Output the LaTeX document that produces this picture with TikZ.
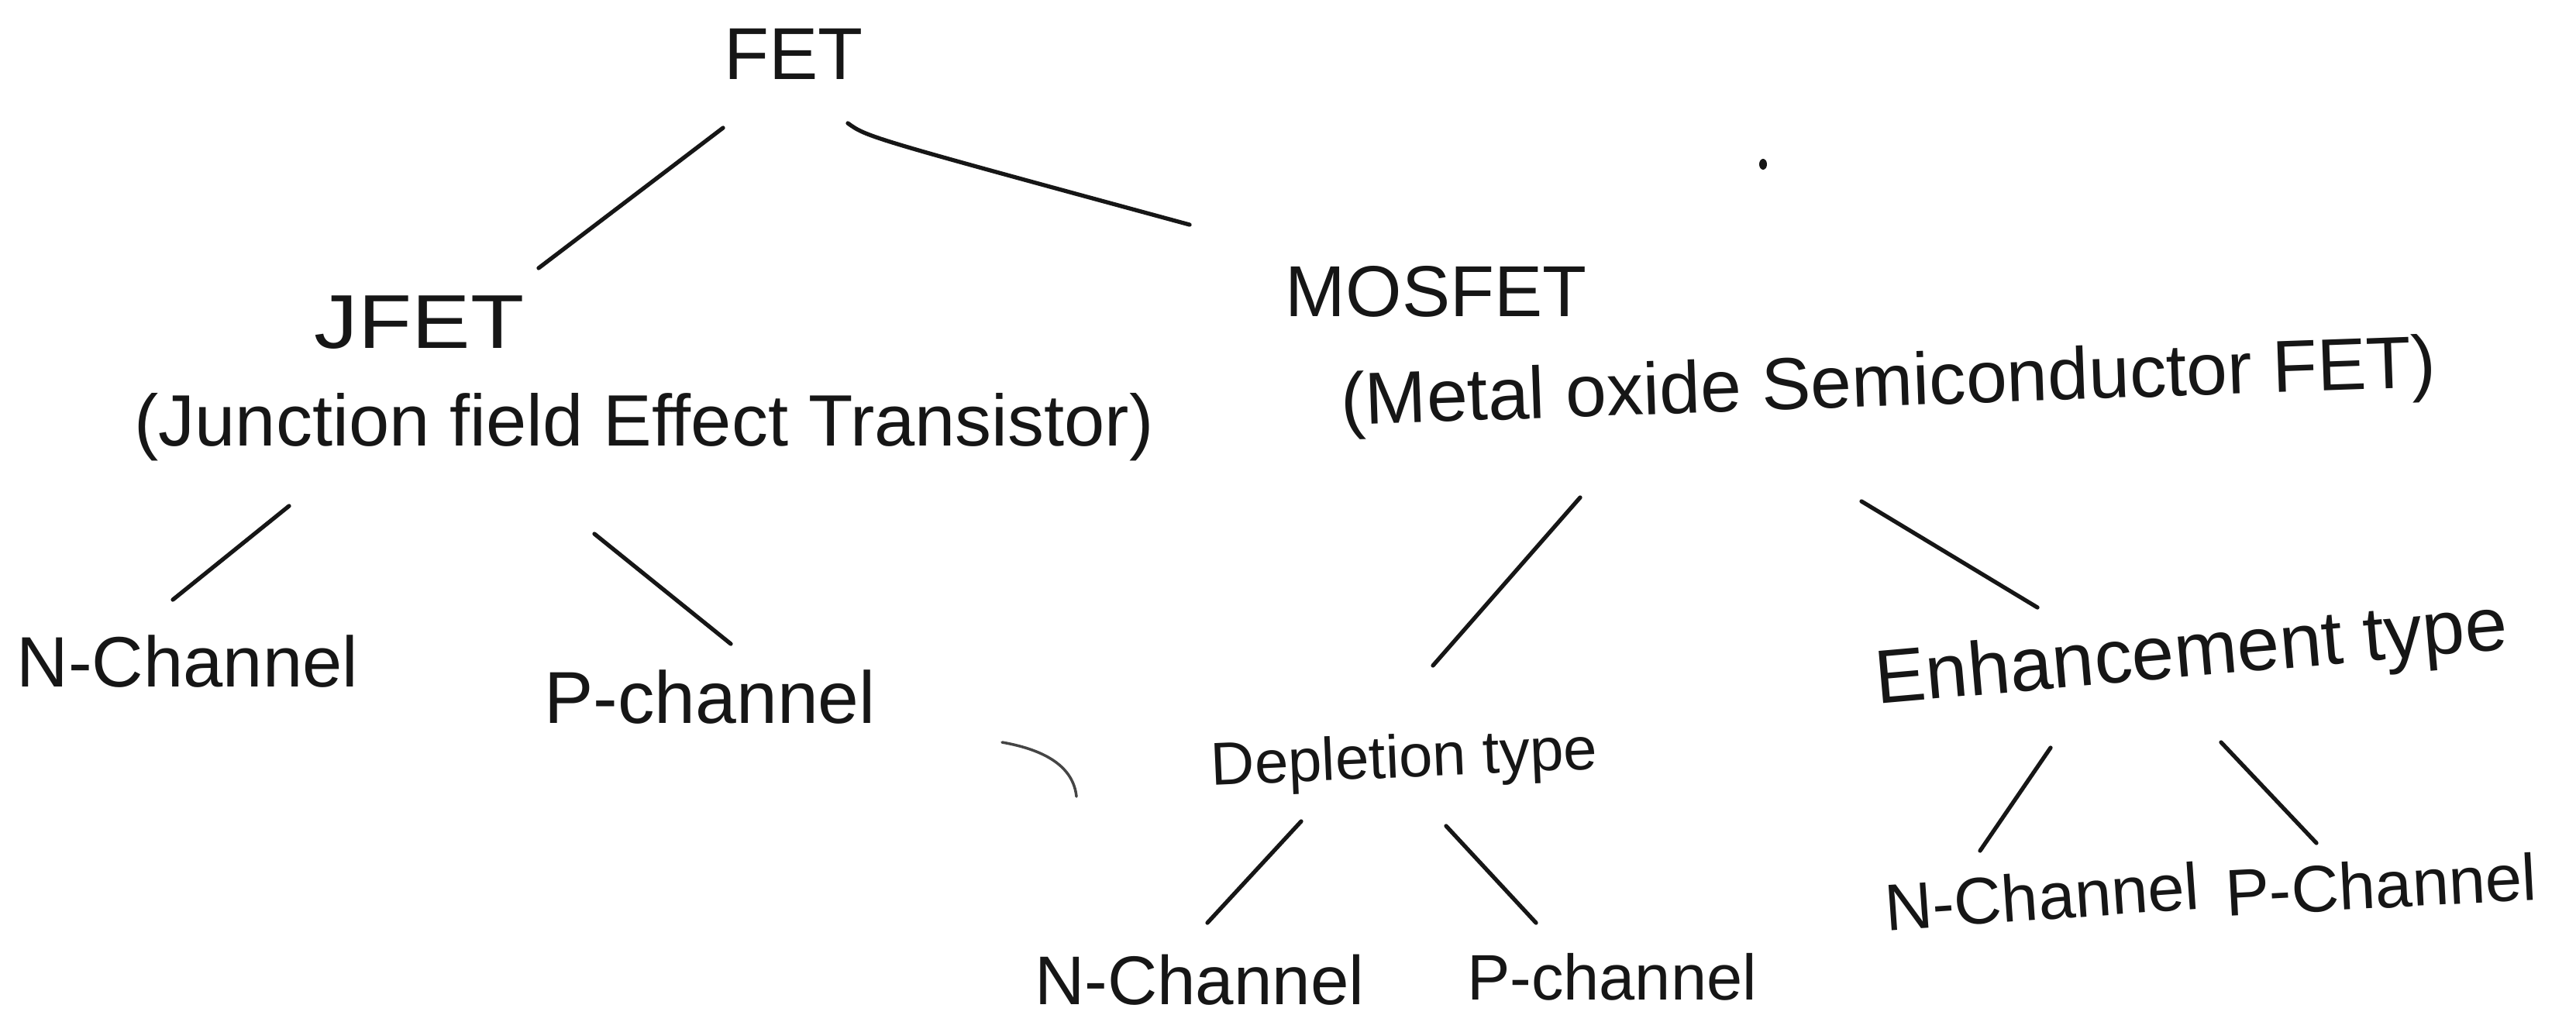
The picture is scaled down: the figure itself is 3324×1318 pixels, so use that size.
\documentclass[tikz,border=0pt]{standalone}
\usepackage{fontspec}
\setmainfont{Liberation Sans}
\newcommand{\fsz}[1]{\fontsize{#1}{#1}\selectfont}
\definecolor{ink}{HTML}{161616}
\tikzset{
  lbl/.style={inner sep=0pt, anchor=base, text=ink},
  branch/.style={draw=ink, line width=1.5pt, line cap=round},
  stray/.style={draw=ink!80, line width=1pt, line cap=round}
}
\begin{document}
\begin{tikzpicture}[x=0.01cm, y=-0.01cm]
\useasboundingbox[fill=white] (0,0) rectangle (3324,1318);

% root
\node[lbl, font=\fsz{27}] (fet) at (1024,102) {FET};

% JFET branch
\node[lbl, font=\fsz{28}, xscale=1.15] (jfet) at (541,449) {JFET};
\node[lbl, font=\fsz{26.7}] (jfull) at (831,575) {(Junction field Effect Transistor)};
\node[lbl, font=\fsz{26.2}] (jn) at (242,886) {N-Channel};
\node[lbl, font=\fsz{27}] (jp) at (916,933) {P-channel};

% MOSFET branch
\node[lbl, font=\fsz{26.5}] (mos) at (1853,408) {MOSFET};
\node[lbl, font=\fsz{27}, rotate=2] (mfull) at (2438,524) {(Metal oxide Semiconductor FET)};
\node[lbl, font=\fsz{22.2}, rotate=2.5] (dep) at (1813,1003) {Depletion type};
\node[lbl, font=\fsz{27.9}, rotate=5] (enh) at (2830,873) {Enhancement type};
\node[lbl, font=\fsz{25.3}] (dn) at (1548,1296) {N-Channel};
\node[lbl, font=\fsz{23.6}] (dp) at (2080,1290) {P-channel};
\node[lbl, font=\fsz{24.2}, rotate=4] (en) at (2637,1187) {N-Channel};
\node[lbl, font=\fsz{24.2}, rotate=3] (ep) at (3074,1172) {P-Channel};

% tree branches
\draw[branch] ([shift={(-91,63)}]fet.base) -- ([shift={(154,-103)}]jfet.base);
\draw[branch] ([shift={(70,57)}]fet.base) .. controls ([shift={(95,75)}]fet.base) .. ([shift={(-318,-118)}]mos.base);
\draw[branch] ([shift={(-458,78)}]jfull.base) -- ([shift={(-19,-112)}]jn.base);
\draw[branch] ([shift={(-64,114)}]jfull.base) -- ([shift={(27,-102)}]jp.base);
\draw[branch] ([shift={(-399,118)}]mfull.base) -- ([shift={(36,-144)}]dep.base);
\draw[branch] ([shift={(-36,123)}]mfull.base) -- ([shift={(-201,-89)}]enh.base);
\draw[branch] ([shift={(-134,57)}]dep.base) -- ([shift={(10,-105)}]dn.base);
\draw[branch] ([shift={(53,63)}]dep.base) -- ([shift={(-98,-99)}]dp.base);
\draw[branch] ([shift={(-184,92)}]enh.base) -- ([shift={(-82,-89)}]en.base);
\draw[branch] ([shift={(36,85)}]enh.base) -- ([shift={(-85,-84)}]ep.base);

% pen marks on the page
\fill[ink] (2275,212) ellipse (5 and 7);
\draw[stray] (1293,958) .. controls (1350,968) and (1385,990) .. (1389,1028);
\end{tikzpicture}
\end{document}
